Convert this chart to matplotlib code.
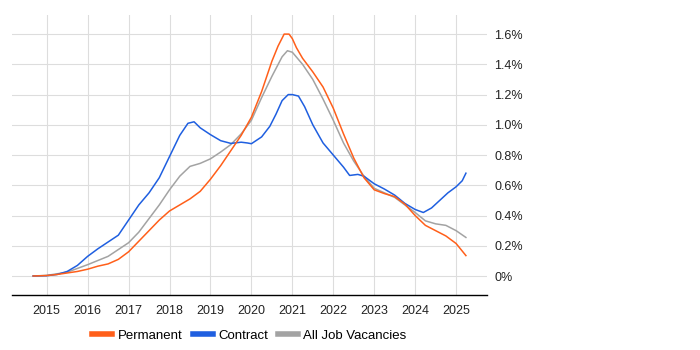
import numpy as np
import matplotlib.pyplot as plt
from matplotlib.ticker import FuncFormatter

plt.rcParams['font.family'] = ['Liberation Sans', 'DejaVu Sans']

# series values (% of UK IT job ads)
permYears = [2014.67, 2015.0, 2015.25, 2015.5, 2015.75, 2016.0, 2016.25, 2016.5, 2016.75, 2017.0, 2017.25, 2017.5,
             2017.75, 2018.0, 2018.25, 2018.5, 2018.75, 2019.0, 2019.25, 2019.5, 2019.75, 2020.0, 2020.25, 2020.5,
             2020.65, 2020.8, 2020.92, 2021.0, 2021.1, 2021.25, 2021.5, 2021.75, 2022.0, 2022.25, 2022.5, 2022.75,
             2023.0, 2023.25, 2023.5, 2023.75, 2024.0, 2024.25, 2024.5, 2024.75, 2025.0, 2025.24]
permanent = [0.0, 0.003, 0.01, 0.02, 0.03, 0.045, 0.065, 0.08, 0.11, 0.16, 0.23, 0.30,
             0.37, 0.43, 0.47, 0.51, 0.56, 0.64, 0.73, 0.83, 0.93, 1.05, 1.22, 1.42,
             1.52, 1.60, 1.60, 1.57, 1.51, 1.44, 1.35, 1.25, 1.11, 0.94, 0.78, 0.65,
             0.57, 0.545, 0.525, 0.475, 0.40, 0.335, 0.30, 0.265, 0.215, 0.135]

contYears = [2014.67, 2015.0, 2015.25, 2015.5, 2015.75, 2016.0, 2016.25, 2016.5, 2016.75, 2017.0, 2017.25, 2017.5,
             2017.75, 2018.0, 2018.25, 2018.45, 2018.6, 2018.75, 2019.0, 2019.25, 2019.5, 2019.75, 2019.9, 2020.0,
             2020.25, 2020.45, 2020.6, 2020.75, 2020.9, 2021.0, 2021.15, 2021.3, 2021.5, 2021.75, 2022.0, 2022.25,
             2022.4, 2022.6, 2022.75, 2023.0, 2023.25, 2023.5, 2023.75, 2024.0, 2024.2, 2024.4, 2024.6, 2024.8,
             2025.0, 2025.15, 2025.24]
contract = [0.0, 0.002, 0.01, 0.03, 0.07, 0.13, 0.18, 0.225, 0.27, 0.37, 0.47, 0.55,
            0.65, 0.79, 0.93, 1.01, 1.02, 0.98, 0.935, 0.895, 0.877, 0.885, 0.88, 0.875,
            0.92, 0.99, 1.07, 1.16, 1.20, 1.20, 1.19, 1.12, 1.00, 0.88, 0.80, 0.72,
            0.665, 0.672, 0.66, 0.61, 0.575, 0.535, 0.48, 0.44, 0.42, 0.45, 0.50, 0.55,
            0.59, 0.63, 0.68]

allYears = [2014.67, 2015.0, 2015.5, 2016.0, 2016.5, 2017.0, 2017.25, 2017.5, 2017.75, 2018.0, 2018.25, 2018.5,
            2018.75, 2019.0, 2019.25, 2019.5, 2019.75, 2020.0, 2020.25, 2020.5, 2020.75, 2020.88, 2021.0, 2021.25,
            2021.5, 2021.75, 2022.0, 2022.25, 2022.5, 2022.75, 2023.0, 2023.25, 2023.5, 2023.75, 2024.0, 2024.25,
            2024.5, 2024.75, 2025.0, 2025.24]
allJobs = [0.0, 0.004, 0.025, 0.075, 0.13, 0.22, 0.29, 0.38, 0.47, 0.57, 0.66, 0.725,
           0.745, 0.775, 0.82, 0.87, 0.94, 1.03, 1.18, 1.32, 1.45, 1.49, 1.48, 1.40,
           1.30, 1.17, 1.03, 0.88, 0.76, 0.66, 0.58, 0.55, 0.52, 0.47, 0.42, 0.365,
           0.345, 0.335, 0.30, 0.255]

yearTicks = list(range(2015, 2026))
pctTicks = [0.0, 0.2, 0.4, 0.6, 0.8, 1.0, 1.2, 1.4, 1.6]

fig = plt.figure(figsize=(7, 3.5), dpi=100)
ax = fig.add_axes([0.017, 0.157, 0.679, 0.8])

ax.plot(allYears, allJobs, color='#a3a3a3', lw=1.1, label='All Job Vacancies', zorder=3)
ax.plot(contYears, contract, color='#1f5fe0', lw=1.1, label='Contract', zorder=4)
ax.plot(permYears, permanent, color='#ff5f1a', lw=1.1, label='Permanent', zorder=5)

ax.set_xlim(2014.15, 2025.76)
ax.set_ylim(-0.126, 1.726)
ax.set_xticks(yearTicks)
ax.set_yticks(pctTicks)
ax.yaxis.set_major_formatter(FuncFormatter(lambda v, p: '0%' if v == 0 else '{:.1f}%'.format(v)))
ax.yaxis.tick_right()
ax.tick_params(axis='y', length=0, pad=5, labelsize=9, colors='#222222')
ax.tick_params(axis='x', length=0, pad=7, labelsize=9, colors='#222222')
ax.grid(True, color='#dddddd', lw=0.8)
ax.set_axisbelow(True)
for s in ['top', 'left', 'right']:
    ax.spines[s].set_visible(False)
ax.spines['bottom'].set_color('black')
ax.spines['bottom'].set_linewidth(1.0)

handles, labels = ax.get_legend_handles_labels()
order = [2, 1, 0]
leg = ax.legend([handles[i] for i in order], [labels[i] for i in order], loc='center',
                bbox_to_anchor=(0.5, -0.146), ncol=3, frameon=False, fontsize=9.5,
                handlelength=1.5, handletextpad=0.4, columnspacing=0.8)
for line in leg.get_lines():
    line.set_linewidth(4)

plt.savefig('out.png', dpi=100)
